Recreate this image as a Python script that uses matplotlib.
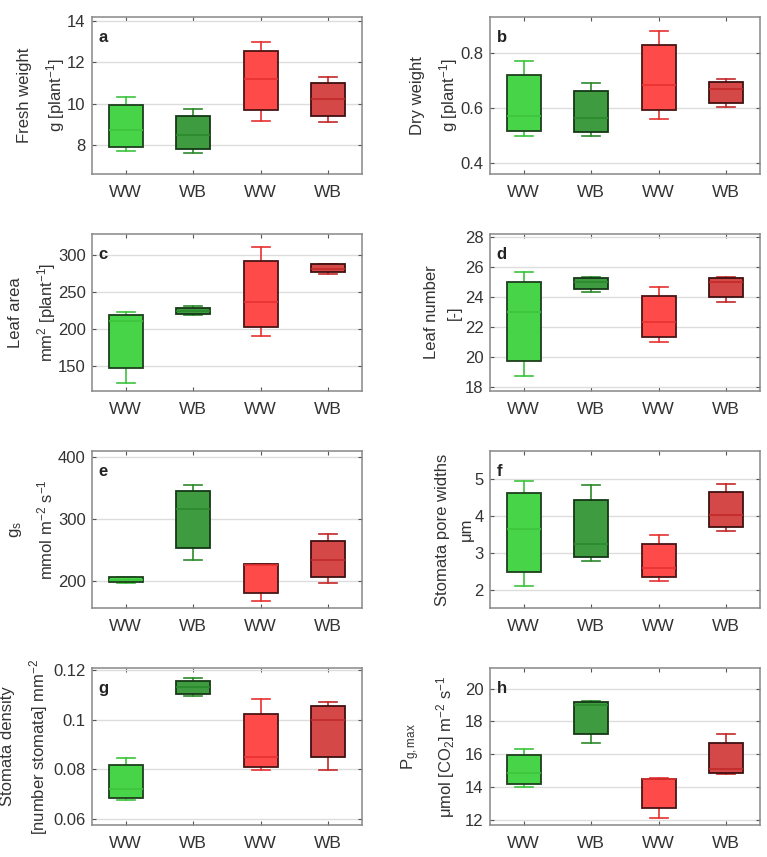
#!/usr/bin/env python3
"""Box plots of plant traits for WW / WB treatments (green and red lines)."""

import matplotlib
matplotlib.use("Agg")
import matplotlib.pyplot as plt

plt.rcParams["font.family"] = ["Liberation Sans", "DejaVu Sans"]
plt.rcParams["mathtext.fontset"] = "custom"
plt.rcParams["mathtext.rm"] = "Liberation Sans"
plt.rcParams["mathtext.it"] = "Liberation Sans:italic"
plt.rcParams["mathtext.default"] = "rm"

categories = ["WW", "WB", "WW", "WB"]

# per panel: (whislo, q1, med, q3, whishi) for each of the 4 boxes
fresh_weight = [(7.7, 7.92, 8.71, 9.93, 10.34), (7.6, 7.83, 8.47, 9.39, 9.74),
                (9.16, 9.71, 11.21, 12.56, 13.0), (9.13, 9.41, 10.24, 11.0, 11.29)]
dry_weight = [(0.499, 0.515, 0.569, 0.719, 0.77), (0.499, 0.512, 0.563, 0.661, 0.692),
              (0.558, 0.592, 0.684, 0.829, 0.878), (0.604, 0.619, 0.670, 0.694, 0.705)]
leaf_area = [(126, 146.4, 210, 219, 223), (219, 219.5, 224, 228, 230),
             (190, 202, 236, 292, 311), (274.5, 277, 280.5, 287, 288)]
leaf_number = [(18.67, 19.7, 22.97, 24.99, 25.69), (24.3, 24.5, 24.96, 25.25, 25.3),
               (21.0, 21.33, 22.34, 24.04, 24.66), (23.66, 23.99, 25.0, 25.25, 25.3)]
gs = [(197, 198, 201.6, 206, 206.5), (233.7, 253.8, 315.8, 345, 355.4),
      (168, 181.5, 226.6, 227, 227.7), (197.3, 206.5, 234, 265, 276)]
pore_width = [(2.11, 2.48, 3.64, 4.61, 4.94), (2.77, 2.9, 3.25, 4.44, 4.83),
              (2.25, 2.35, 2.6, 3.25, 3.47), (3.58, 3.69, 4.02, 4.65, 4.85)]
stomata_density = [(0.0676, 0.0685, 0.0722, 0.0816, 0.0847), (0.1095, 0.1101, 0.113, 0.1154, 0.1168),
                   (0.0797, 0.0809, 0.0851, 0.1022, 0.1082), (0.0799, 0.0849, 0.0997, 0.1053, 0.107)]
pg_max = [(14.0, 14.2, 14.84, 15.94, 16.31), (16.67, 17.25, 19.02, 19.22, 19.27),
          (12.12, 12.69, 14.5, 14.51, 14.53), (14.76, 14.82, 15.1, 16.69, 17.25)]

panels = [
    ("a", "Fresh weight\ng [plant$^{-1}$]", fresh_weight, (6.6, 14.2), [8, 10, 12, 14], None),
    ("b", "Dry weight\ng [plant$^{-1}$]", dry_weight, (0.36, 0.93), [0.4, 0.6, 0.8], None),
    ("c", "Leaf area\nmm$^2$ [plant$^{-1}$]", leaf_area, (115.5, 328), [150, 200, 250, 300], None),
    ("d", "Leaf number\n[-]", leaf_number, (17.7, 28.2), [18, 20, 22, 24, 26, 28], None),
    ("e", "g$_s$\nmmol m$^{-2}$ s$^{-1}$", gs, (156.5, 410), [200, 300, 400], None),
    ("f", "Stomata pore widths\nμm", pore_width, (1.51, 5.75), [2, 3, 4, 5], None),
    ("g", "Stomata density\n[number stomata] mm$^{-2}$", stomata_density, (0.0577, 0.1207),
     [0.06, 0.08, 0.1, 0.12], ["0.06", "0.08", "0.1", "0.12"]),
    ("h", "P$_{g,max}$\nμmol [CO$_2$] m$^{-2}$ s$^{-1}$", pg_max, (11.67, 21.27), [12, 14, 16, 18, 20], None),
]
label_x = [-0.092, -0.111, -0.125, -0.104, -0.136, -0.060, -0.155, -0.122]

fills = ["#48d448", "#3f9b3f", "#ff4a4a", "#d54848"]
edges = ["#1d3f1d", "#163816", "#4a1515", "#3f1010"]
lines = ["#3cc43c", "#2a8a2a", "#e83030", "#c42828"]
text_color = "#333333"

lefts = [92 / 767, 490 / 767]
bottoms = [1 - 174 / 857, 1 - 391 / 857, 1 - 608 / 857, 1 - 825 / 857]
width = 270 / 767
height = 157 / 857

fig = plt.figure(figsize=(7.67, 8.57), dpi=100)

for i, (letter, ylabel, data, ylim, yticks, yticklabels) in enumerate(panels):
    ax = fig.add_axes([lefts[i % 2], bottoms[i // 2], width, height])
    stats = [{"whislo": lo, "q1": q1, "med": med, "q3": q3, "whishi": hi}
             for lo, q1, med, q3, hi in data]
    parts = ax.bxp(stats, positions=[1, 2, 3, 4], widths=0.5, capwidths=0.27,
                   patch_artist=True, showfliers=False, manage_ticks=False)
    for k in range(4):
        box = parts["boxes"][k]
        box.set_facecolor(fills[k])
        box.set_edgecolor(edges[k])
        box.set_linewidth(1.3)
        box.set_zorder(3)
        parts["medians"][k].set_color(lines[k])
        parts["medians"][k].set_linewidth(1.2)
        parts["medians"][k].set_zorder(4)
        for art in parts["whiskers"][2 * k:2 * k + 2] + parts["caps"][2 * k:2 * k + 2]:
            art.set_color(lines[k])
            art.set_linewidth(1.2)

    ax.set_xlim(0.5, 4.5)
    ax.set_ylim(*ylim)
    ax.set_xticks([1, 2, 3, 4])
    ax.set_xticklabels(categories)
    ax.set_yticks(yticks)
    if yticklabels:
        ax.set_yticklabels(yticklabels)
    ax.yaxis.grid(True, color="#dddddd", linewidth=1)
    ax.set_axisbelow(True)
    ax.tick_params(direction="in", top=True, right=True, length=3, width=0.8,
                   color="#555555", labelcolor=text_color)
    ax.tick_params(axis="y", labelsize=12, pad=4.5)
    ax.tick_params(axis="x", labelsize=12.5, pad=8)
    for spine in ax.spines.values():
        spine.set_color("#888888")
        spine.set_linewidth(1.1)
    ax.set_ylabel(ylabel, fontsize=12, color=text_color, linespacing=1.7)
    ax.yaxis.set_label_coords(label_x[i], 0.5)
    ax.text(0.025, 0.92, letter, transform=ax.transAxes, fontsize=12,
            fontweight="bold", color="#222222", va="top", ha="left")

fig.savefig("out.png", dpi=100, facecolor="white")
